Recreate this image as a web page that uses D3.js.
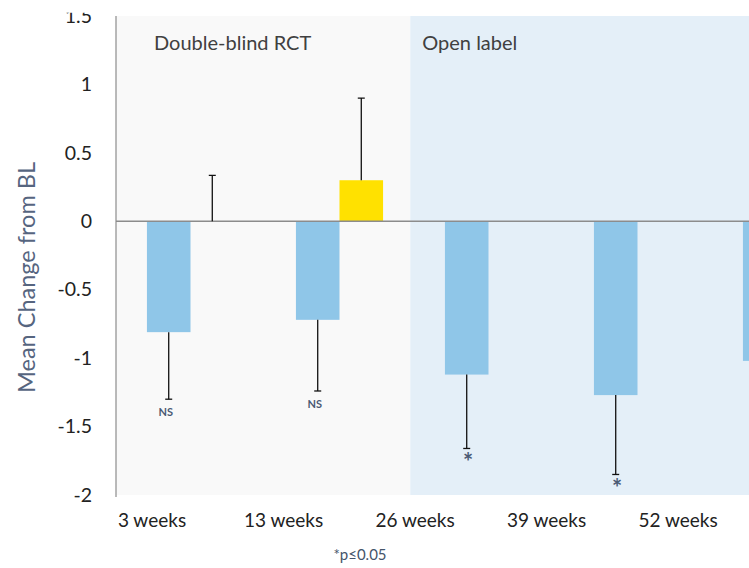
<!DOCTYPE html>
<html>
<head>
<meta charset="utf-8">
<script src="https://cdn.jsdelivr.net/npm/d3@7"></script>
<style>
  html, body { margin: 0; padding: 0; background: #ffffff; }
  svg { display: block; font-family: Lato, "Open Sans", sans-serif; }
</style>
</head>
<body>
<svg id="chart" width="749" height="568"></svg>
<script>
// Visit time points
const categories = ["3 weeks", "13 weeks", "26 weeks", "39 weeks", "52 weeks"];

// Active treatment: mean change from baseline and lower end of error bar
const activeMean  = [-0.81, -0.72, -1.12, -1.27, -1.02];
const activeLower = [-1.30, -1.24, -1.66, -1.85, -1.55];
const significance = ["NS", "NS", "*", "*", ""];

// Placebo (double-blind phase only): mean change and upper end of error bar
const placeboMean  = [0.0, 0.30, null, null, null];
const placeboUpper = [0.335, 0.90, null, null, null];

// Y axis ticks
const yTicks = [1.5, 1, 0.5, 0, -0.5, -1, -1.5, -2];

// Study phases, given as positions along the time-point axis (in band steps)
const phaseNames = ["Double-blind RCT", "Open label"];
const phaseStart = [0, 1.975];
const phaseEnd   = [1.975, 5];

const svg = d3.select("#chart");
const plotLeft = 116, plotTop = 16, plotBottom = 495, step = 149;

const y = d3.scaleLinear().domain([-2, 1.5]).range([plotBottom, plotTop]);
const x = d3.scaleBand().domain(categories)
  .range([plotLeft, plotLeft + step * categories.length]).paddingInner(0).paddingOuter(0);
const group = d3.scaleBand().domain(["active", "placebo"])
  .range([0, x.bandwidth()]).paddingInner(0).paddingOuter(0.71);
const xLabel = d3.scalePoint().domain(categories).range([152, 678]);

svg.append("defs").append("clipPath").attr("id", "vis")
  .append("rect").attr("x", 0).attr("y", 12.7).attr("width", 749).attr("height", 568);

const root = svg.append("g").attr("clip-path", "url(#vis)");

// Phase backgrounds
const phaseFill = ["#f9f9f9", "#e4eff8"];
const xs = v => plotLeft + v * step;
root.selectAll("rect.phase").data(phaseNames).join("rect")
  .attr("class", "phase")
  .attr("x", (d, i) => xs(phaseStart[i]))
  .attr("y", plotTop)
  .attr("width", (d, i) => xs(phaseEnd[i]) - xs(phaseStart[i]))
  .attr("height", plotBottom - plotTop)
  .attr("fill", (d, i) => phaseFill[i]);

root.selectAll("text.phase").data(phaseNames).join("text")
  .attr("class", "phase")
  .attr("x", (d, i) => xs(phaseStart[i]) + (i === 0 ? 38 : 12))
  .attr("y", 50)
  .attr("font-size", 20)
  .attr("fill", "#404040")
  .text(d => d);

// Active treatment bars
root.selectAll("rect.active").data(categories).join("rect")
  .attr("class", "active")
  .attr("x", d => x(d) + group("active"))
  .attr("width", group.bandwidth())
  .attr("y", (d, i) => y(Math.max(0, activeMean[i])))
  .attr("height", (d, i) => Math.abs(y(activeMean[i]) - y(0)))
  .attr("fill", "#8fc6e8");

// Placebo bars
const placeboIdx = categories.map((c, i) => i).filter(i => placeboMean[i] !== null);
root.selectAll("rect.placebo").data(placeboIdx).join("rect")
  .attr("class", "placebo")
  .attr("x", i => x(categories[i]) + group("placebo"))
  .attr("width", group.bandwidth())
  .attr("y", i => y(Math.max(0, placeboMean[i])))
  .attr("height", i => Math.abs(y(placeboMean[i]) - y(0)))
  .attr("fill", "#ffe100");

// Zero line
root.append("line")
  .attr("x1", plotLeft).attr("x2", 749)
  .attr("y1", y(0)).attr("y2", y(0))
  .attr("stroke", "#8c8c8c").attr("stroke-width", 1.5);

// One-sided error bars
function errorBar(cx, from, to) {
  root.append("line").attr("x1", cx).attr("x2", cx)
    .attr("y1", y(from)).attr("y2", y(to))
    .attr("stroke", "#111").attr("stroke-width", 1.3);
  root.append("line").attr("x1", cx - 3.5).attr("x2", cx + 3.5)
    .attr("y1", y(to)).attr("y2", y(to))
    .attr("stroke", "#111").attr("stroke-width", 1.3);
}
categories.forEach((c, i) => {
  const cx = x(c) + group("active") + group.bandwidth() / 2;
  errorBar(cx, activeMean[i], activeLower[i]);
});
placeboIdx.forEach(i => {
  const cx = x(categories[i]) + group("placebo") + group.bandwidth() / 2;
  errorBar(cx, placeboMean[i], placeboUpper[i]);
});

// Significance markers below the error bars
root.selectAll("text.sig").data(categories).join("text")
  .attr("class", "sig")
  .attr("x", (d, i) => x(d) + group("active") + group.bandwidth() / 2 + (significance[i] === "*" ? 1.5 : -3))
  .attr("y", (d, i) => y(activeLower[i]) + (significance[i] === "*" ? 23 : 17))
  .attr("text-anchor", "middle")
  .attr("font-size", (d, i) => significance[i] === "*" ? 24 : 11)
  .attr("font-weight", "bold")
  .attr("fill", "#4a5a74")
  .text((d, i) => significance[i]);

// Y axis
const yAxis = d3.axisLeft(y).tickValues(yTicks).tickSize(0).tickPadding(24)
  .tickFormat(d => String(d));
const yg = root.append("g").attr("transform", `translate(${plotLeft},0)`).call(yAxis);
yg.select(".domain").attr("stroke", "#8c8c8c").attr("stroke-width", 1.2)
  .attr("d", `M0,${plotTop}V${plotBottom + 2}`);
yg.selectAll("text").attr("font-size", 19.5).attr("fill", "#222")
  .attr("font-family", "Lato, 'Open Sans', sans-serif");

// Time point labels
root.selectAll("text.xlab").data(categories).join("text")
  .attr("class", "xlab")
  .attr("x", d => xLabel(d))
  .attr("y", 527)
  .attr("text-anchor", "middle")
  .attr("font-size", 19)
  .attr("fill", "#222")
  .text(d => d);

// Y axis title
root.append("text")
  .attr("transform", "translate(35,277.5) rotate(-90)")
  .attr("text-anchor", "middle")
  .attr("font-size", 23.5)
  .attr("fill", "#56657f")
  .text("Mean Change from BL");

// Footnote
root.append("text")
  .attr("x", 360).attr("y", 560)
  .attr("text-anchor", "middle")
  .attr("font-size", 15)
  .attr("fill", "#44546a")
  .text("*p≤0.05");
</script>
</body>
</html>
